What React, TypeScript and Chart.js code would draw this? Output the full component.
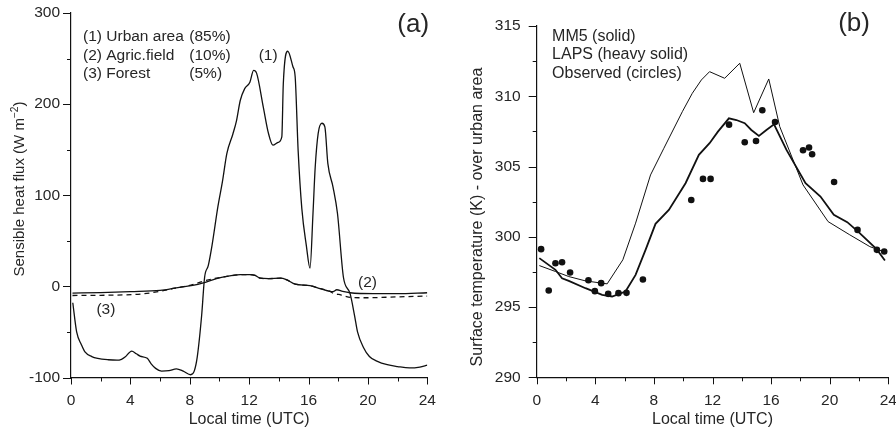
import { useEffect, useRef } from 'react';
import { Chart, registerables } from 'chart.js';

Chart.register(...registerables);

const FONT = "'Liberation Sans', Arial, Helvetica, sans-serif";
const TEXT = '#262626';
const INK = '#111111';

// ---------- shared x axis ----------
const hourTicks = [0, 4, 8, 12, 16, 20, 24];
const hourMinorTicks = [2, 6, 10, 14, 18, 22];

// ---------- panel (a): sensible heat flux ----------
const fluxTicks = [-100, 0, 100, 200, 300];
const fluxMinorTicks = [-50, 50, 150, 250];

const urbanHours = [0.12, 0.38, 0.7, 0.94, 1.4, 1.8, 2.5, 3.1, 3.4, 3.64, 4.09, 4.4, 4.65, 5.14, 5.4, 5.7, 6.1, 6.6, 7.1, 7.56, 8.06, 8.3, 8.5, 8.8, 9.0, 9.25, 9.5, 9.9, 10.2, 10.5, 10.9, 11.15, 11.4, 11.7, 12.05, 12.3, 12.5, 12.95, 13.3, 13.6, 13.95, 14.2, 14.3, 14.6, 14.95, 15.1, 15.3, 15.55, 15.85, 16.1, 16.3, 16.45, 16.65, 16.9, 17.1, 17.3, 17.65, 17.95, 18.35, 18.8, 19.1, 19.3, 19.7, 20.1, 20.6, 21.3, 22.0, 22.8, 23.5, 24.0];
const urbanFlux = [-18, -50, -64, -72, -77, -79, -80.5, -81, -80, -77.6, -71, -74, -76.5, -79, -85, -90, -93, -92.5, -90.5, -93, -97, -93, -78, -32, 10, 23, 45, 88, 115, 146, 167, 182, 204, 217, 224, 237, 234, 197, 168, 155, 158, 164, 222, 258, 241, 230, 149, 85, 45, 20, 80, 131, 168, 179, 175, 135, 109, 80, 10, -8, -32, -50, -67, -77, -82, -86, -88, -89.5, -88.5, -86.5];

const agricHours = [0.1, 2, 4, 6, 7.3, 8.2, 9.1, 9.8, 10.5, 11.4, 12.05, 12.4, 12.75, 13.3, 14.1, 14.5, 15.1, 16.1, 16.8, 17.45, 17.65, 17.9, 18.3, 18.8, 20.4, 22, 24];
const agricFlux = [-7.3, -6.8, -5.8, -4.4, -1, 1, 4.7, 8.5, 11, 12.8, 13, 12, 9, 8.5, 9, 7.5, 2.5, 0.8, -2.5, -5.5, -5.8, -3.7, -5.5, -7, -8, -8, -7];

const forestHours = [0.1, 2, 4.9, 6, 7, 7.8, 8.5, 9.1, 9.8, 10.5, 11.4, 12.05, 12.4, 12.75, 13.3, 14.1, 14.5, 15.1, 16.1, 16.8, 17.45, 17.6, 18.2, 19, 20, 22, 24];
const forestFlux = [-10, -9.8, -8.1, -5.4, -2, 0.4, 3.5, 6.6, 9, 11, 12.8, 13, 12, 9, 8.5, 9, 7.5, 2.5, 0.8, -2.5, -5.5, -7, -9.5, -12.4, -12.5, -11.5, -10.6];

// ---------- panel (b): surface temperature ----------
const tempTicks = [290, 295, 300, 305, 310, 315];
const tempMinorTicks = [292.5, 297.5, 302.5, 307.5, 312.5];

const mm5Hours = [0.18, 1.28, 2.19, 3.33, 4.81, 5.88, 6.75, 7.77, 8.68, 9.94, 10.62, 11.24, 11.8, 12.83, 13.86, 14.81, 15.84, 16.59, 18.18, 19.89, 21.37, 22.74, 23.65];
const mm5Temp = [297.95, 297.53, 297.17, 296.86, 296.65, 298.36, 300.97, 304.4, 306.3, 308.9, 310.21, 311.16, 311.75, 311.28, 312.35, 308.83, 311.23, 307.84, 303.69, 301.08, 300.14, 299.3, 298.95];

const lapsHours = [0.18, 1.28, 1.73, 2.19, 3.33, 4.47, 5.15, 6.06, 6.75, 7.43, 8.11, 9.02, 10.16, 11.07, 11.8, 12.37, 13.12, 13.63, 14.2, 14.65, 15.17, 15.68, 16.2, 17.05, 18.35, 19.37, 20.28, 21.2, 21.94, 23.2, 23.77];
const lapsTemp = [298.48, 297.65, 297.05, 296.86, 296.34, 295.87, 295.75, 296.1, 297.29, 299.07, 300.92, 301.91, 303.81, 305.83, 306.66, 307.48, 308.43, 308.31, 308.08, 307.6, 307.18, 307.6, 308.0, 306.18, 303.81, 302.86, 301.56, 301.04, 300.37, 299.12, 298.31];

const obsHours = [0.3, 0.82, 1.28, 1.73, 2.28, 3.53, 3.97, 4.4, 4.88, 5.58, 6.13, 7.25, 10.55, 11.35, 11.87, 13.13, 14.2, 14.97, 15.4, 16.27, 18.18, 18.59, 18.8, 20.3, 21.9, 23.22, 23.72];
const obsTemp = [299.12, 296.18, 298.12, 298.19, 297.46, 296.91, 296.13, 296.7, 295.94, 295.99, 296.01, 296.96, 302.62, 304.12, 304.12, 307.98, 306.73, 306.82, 309.0, 308.17, 306.16, 306.35, 305.87, 303.9, 300.49, 299.07, 298.95];

// ---------- annotation texts ----------
const legendA = ['(1) Urban area', '(2) Agric.field', '(3) Forest'];
const sharesA = ['(85%)', '(10%)', '(5%)'];
const legendB = ['MM5 (solid)', 'LAPS (heavy solid)', 'Observed (circles)'];

const pts = (xs: number[], ys: number[]) => xs.map((x, i) => ({ x, y: ys[i] }));

type Txt = { text: string; x: number; y: number; size: number; align: CanvasTextAlign };

const axisDecor = {
  id: 'axisDecor',
  afterDraw(chart: any, _args: any, opts: any) {
    const ctx: CanvasRenderingContext2D = chart.ctx;
    const xs = chart.scales.x;
    const ys = chart.scales.y;
    const { left, bottom } = chart.chartArea;
    ctx.save();
    ctx.strokeStyle = INK;
    ctx.lineWidth = 1;
    ctx.beginPath();
    const xTick = (v: number, len: number) => {
      const p = Math.round(xs.getPixelForValue(v)) + 0.5;
      ctx.moveTo(p, bottom);
      ctx.lineTo(p, bottom + len);
    };
    const yTick = (v: number, len: number) => {
      const p = Math.round(ys.getPixelForValue(v)) + 0.5;
      ctx.moveTo(left, p);
      ctx.lineTo(left - len, p);
    };
    opts.xMajor.forEach((v: number) => xTick(v, 7));
    opts.xMinor.forEach((v: number) => xTick(v, 4));
    opts.yMajor.forEach((v: number) => yTick(v, 8));
    opts.yMinor.forEach((v: number) => yTick(v, 4));
    ctx.stroke();

    ctx.fillStyle = TEXT;
    ctx.textBaseline = 'middle';
    (opts.texts as Txt[]).forEach((t) => {
      ctx.font = `${t.size}px ${FONT}`;
      ctx.textAlign = t.align;
      ctx.fillText(t.text, xs.getPixelForValue(t.x), ys.getPixelForValue(t.y));
    });

    // rotated y title with optional superscript
    const yt = opts.yTitle;
    ctx.save();
    ctx.translate(left - yt.dx, yt.cy);
    ctx.rotate(-Math.PI / 2);
    ctx.textAlign = 'left';
    ctx.textBaseline = 'alphabetic';
    const mainFont = `${yt.size}px ${FONT}`;
    const supFont = `${yt.size * 0.68}px ${FONT}`;
    ctx.font = mainFont;
    const w1 = ctx.measureText(yt.main).width;
    const w3 = yt.tail ? ctx.measureText(yt.tail).width : 0;
    ctx.font = supFont;
    const w2 = yt.sup ? ctx.measureText(yt.sup).width : 0;
    const total = w1 + w2 + w3;
    let x0 = -total / 2;
    const base = yt.size * 0.36;
    ctx.font = mainFont;
    ctx.fillText(yt.main, x0, base);
    x0 += w1;
    if (yt.sup) {
      ctx.font = supFont;
      ctx.fillText(yt.sup, x0, base - yt.size * 0.42);
      x0 += w2;
    }
    if (yt.tail) {
      ctx.font = mainFont;
      ctx.fillText(yt.tail, x0, base);
    }
    ctx.restore();
    ctx.restore();
  },
};

function xScale(height: number) {
  return {
    type: 'linear',
    min: 0,
    max: 24,
    afterBuildTicks: (s: any) => {
      s.ticks = hourTicks.map((v) => ({ value: v }));
    },
    grid: { display: false, drawTicks: false },
    border: { display: true, color: INK, width: 1.2 },
    ticks: { padding: 14, color: TEXT, font: { family: FONT, size: 15.5 }, maxRotation: 0, autoSkip: false },
    title: { display: true, text: 'Local time (UTC)', color: TEXT, font: { family: FONT, size: 16 }, padding: { top: 0, bottom: 3.4 } },
    afterFit: (s: any) => {
      s.height = height;
      s.paddingLeft = 0;
      s.paddingRight = 0;
    },
  };
}

function yScale(min: number, max: number, ticks: number[], width: number, pad: number) {
  return {
    type: 'linear',
    min,
    max,
    afterBuildTicks: (s: any) => {
      s.ticks = ticks.map((v) => ({ value: v }));
    },
    grid: { display: false, drawTicks: false },
    border: { display: true, color: INK, width: 1.2 },
    ticks: { padding: pad, color: TEXT, font: { family: FONT, size: 15.5 }, autoSkip: false },
    afterFit: (s: any) => {
      s.width = width;
      s.paddingTop = 0;
      s.paddingBottom = 0;
    },
  };
}

export default function App() {
  const refA = useRef<HTMLCanvasElement>(null);
  const refB = useRef<HTMLCanvasElement>(null);

  useEffect(() => {
    const lineDs = (label: string, data: any[], width: number, dash: number[] = [], smooth = false) => ({
      label,
      data,
      borderColor: INK,
      borderWidth: width,
      borderDash: dash,
      pointRadius: 0,
      tension: 0,
      cubicInterpolationMode: smooth ? 'monotone' : 'default',
      fill: false,
    });

    const textsA: Txt[] = [
      { text: legendA[0], x: 0.81, y: 274, size: 15.5, align: 'left' },
      { text: legendA[1], x: 0.81, y: 253, size: 15.5, align: 'left' },
      { text: legendA[2], x: 0.81, y: 233.5, size: 15.5, align: 'left' },
      { text: sharesA[0], x: 7.97, y: 274, size: 15.5, align: 'left' },
      { text: sharesA[1], x: 7.97, y: 253, size: 15.5, align: 'left' },
      { text: sharesA[2], x: 7.97, y: 233.5, size: 15.5, align: 'left' },
      { text: '(1)', x: 13.28, y: 252.7, size: 15.5, align: 'center' },
      { text: '(2)', x: 19.97, y: 3.7, size: 15.5, align: 'center' },
      { text: '(3)', x: 2.35, y: -25.6, size: 15.5, align: 'center' },
      { text: '(a)', x: 23.05, y: 287.4, size: 26, align: 'center' },
    ];

    const chartA = new Chart(refA.current as HTMLCanvasElement, {
      type: 'line',
      data: {
        datasets: [
          lineDs('(1) Urban area', pts(urbanHours, urbanFlux), 1.3, [], true),
          lineDs('(2) Agric.field', pts(agricHours, agricFlux), 1.3, [], true),
          lineDs('(3) Forest', pts(forestHours, forestFlux), 1.3, [5, 4], true),
        ] as any,
      },
      options: {
        responsive: false,
        animation: false,
        devicePixelRatio: 1,
        layout: { padding: { top: 13, right: 20.7, left: 0, bottom: 0 } },
        scales: {
          x: xScale(55.5) as any,
          y: yScale(-100, 300, fluxTicks, 71, 11) as any,
        },
        plugins: {
          legend: { display: false },
          tooltip: { enabled: false },
          axisDecor: {
            xMajor: hourTicks,
            xMinor: hourMinorTicks,
            yMajor: fluxTicks,
            yMinor: fluxMinorTicks,
            texts: textsA,
            yTitle: { main: 'Sensible heat flux (W m', sup: '\u22122', tail: ')', size: 15, dx: 52, cy: 189 },
          },
        } as any,
      },
      plugins: [axisDecor],
    });

    const textsB: Txt[] = [
      { text: legendB[0], x: 1.05, y: 314.27, size: 16, align: 'left' },
      { text: legendB[1], x: 1.05, y: 312.96, size: 16, align: 'left' },
      { text: legendB[2], x: 1.05, y: 311.61, size: 16, align: 'left' },
      { text: '(b)', x: 21.66, y: 315.13, size: 26, align: 'center' },
    ];

    const chartB = new Chart(refB.current as HTMLCanvasElement, {
      type: 'line',
      data: {
        datasets: [
          lineDs('MM5', pts(mm5Hours, mm5Temp), 1.0),
          lineDs('LAPS', pts(lapsHours, lapsTemp), 1.8),
          {
            label: 'Observed',
            data: pts(obsHours, obsTemp),
            showLine: false,
            pointRadius: 3.3,
            pointBackgroundColor: INK,
            pointBorderColor: INK,
            pointBorderWidth: 0,
            borderColor: INK,
          } as any,
        ] as any,
      },
      options: {
        responsive: false,
        animation: false,
        devicePixelRatio: 1,
        layout: { padding: { top: 26, right: 7.7, left: 0, bottom: 0 } },
        scales: {
          x: xScale(55.7) as any,
          y: yScale(290, 315, tempTicks, 88.7, 16) as any,
        },
        plugins: {
          legend: { display: false },
          tooltip: { enabled: false },
          axisDecor: {
            xMajor: hourTicks,
            xMinor: hourMinorTicks,
            yMajor: tempTicks,
            yMinor: tempMinorTicks,
            texts: textsB,
            yTitle: { main: 'Surface temperature (K) - over urban area', sup: '', tail: '', size: 16, dx: 60.7, cy: 217 },
          },
        } as any,
      },
      plugins: [axisDecor],
    });

    return () => {
      chartA.destroy();
      chartB.destroy();
    };
  }, []);

  return (
    <div style={{ position: 'fixed', left: 0, top: 0, width: 896, height: 433, background: '#fff', overflow: 'hidden' }}>
      <canvas ref={refA} width={448} height={433} style={{ position: 'absolute', left: 0, top: 0, width: 448, height: 433 }} />
      <canvas ref={refB} width={448} height={433} style={{ position: 'absolute', left: 448, top: 0, width: 448, height: 433 }} />
    </div>
  );
}
